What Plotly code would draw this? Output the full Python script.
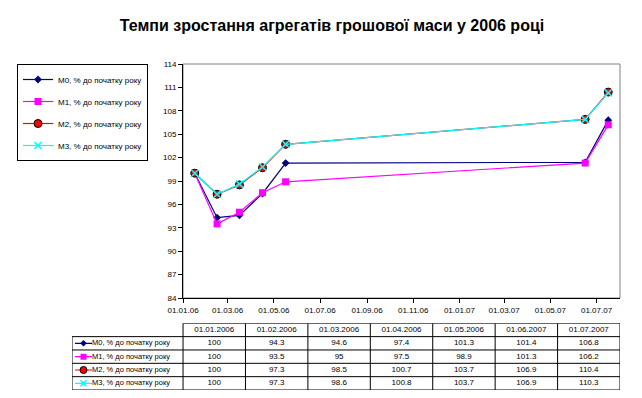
import plotly.graph_objects as go

# figure is placed by the page with an 8px body margin; coordinates below are page pixels
OFF = 8
W, H = 642 - OFF, 398 - OFF


def fx(px):
    return (px - OFF) / W


def fy(py):
    return 1 - (py - OFF) / H


dates = ["2006-01-01", "2006-02-01", "2006-03-01", "2006-04-01", "2006-05-01", "2007-06-01", "2007-07-01"]
date_labels = ["01.01.2006", "01.02.2006", "01.03.2006", "01.04.2006", "01.05.2006", "01.06.2007", "01.07.2007"]
series_names = ["M0, % до початку року", "M1, % до початку року", "M2, % до початку року", "M3, % до початку року"]
m0 = [100, 94.3, 94.6, 97.4, 101.3, 101.4, 106.8]
m1 = [100, 93.5, 95, 97.5, 98.9, 101.3, 106.2]
m2 = [100, 97.3, 98.5, 100.7, 103.7, 106.9, 110.4]
m3 = [100, 97.3, 98.6, 100.8, 103.7, 106.9, 110.3]
x_ticks = ["2006-01-01", "2006-03-01", "2006-05-01", "2006-07-01", "2006-09-01", "2006-11-01",
           "2007-01-01", "2007-03-01", "2007-05-01", "2007-07-01"]
y_ticks = [84, 87, 90, 93, 96, 99, 102, 105, 108, 111, 114]

FONT = "Arial, Liberation Sans, sans-serif"

styles = [
    dict(color="#000080", marker=dict(symbol="diamond", size=6, color="#000080")),
    dict(color="#FF00FF", marker=dict(symbol="square", size=7, color="#FF00FF")),
    dict(color="#FF0000", marker=dict(symbol="circle", size=8, color="#FF0000", line=dict(color="black", width=1))),
    dict(color="#00FFFF", marker=dict(symbol="x-thin", size=7, color="#00FFFF", line=dict(color="#00FFFF", width=1.5))),
]
values = [m0, m1, m2, m3]

fig = go.Figure()
for i, (name, vals, st) in enumerate(zip(series_names, values, styles)):
    fig.add_trace(go.Scatter(
        x=dates, y=vals, name=name, mode="lines+markers",
        xperiod="M1", xperiodalignment="middle",
        line=dict(color=st["color"], width=1.2),
        marker=st["marker"], legendgroup=f"g{i}",
    ))

# ---- data table drawn on its own axes (x2/y2) ----
LABEL_W = 111.0
COL_W = 62.4
ncol = len(dates)
table_w = LABEL_W + COL_W * ncol
col_centers = [LABEL_W + COL_W * (j + 0.5) for j in range(ncol)]
nrows = len(series_names)

fig.add_trace(go.Scatter(
    x=col_centers, y=[nrows + 0.5] * ncol, text=date_labels, mode="text",
    textfont=dict(family=FONT, size=8, color="black"), textposition="middle center",
    xaxis="x2", yaxis="y2", showlegend=False, hoverinfo="skip"))
for i, vals in enumerate(values):
    row_y = nrows - i - 0.5
    fig.add_trace(go.Scatter(
        x=col_centers, y=[row_y] * ncol, text=[f"{v:g}" for v in vals], mode="text",
        textfont=dict(family=FONT, size=8, color="black"), textposition="middle center",
        xaxis="x2", yaxis="y2", showlegend=False, hoverinfo="skip"))
    fig.add_trace(go.Scatter(
        x=[20], y=[row_y], text=[series_names[i]], mode="text",
        textfont=dict(family=FONT, size=7.5, color="black"), textposition="middle right",
        xaxis="x2", yaxis="y2", showlegend=False, hoverinfo="skip"))
    st = styles[i]
    fig.add_trace(go.Scatter(
        x=[3, 20], y=[row_y, row_y], mode="lines", line=dict(color=st["color"], width=1.2),
        xaxis="x2", yaxis="y2", showlegend=False, hoverinfo="skip"))
    mk = dict(st["marker"])
    mk["size"] = max(mk["size"] - 1, 5)
    fig.add_trace(go.Scatter(
        x=[11.5], y=[row_y], mode="markers", marker=mk,
        xaxis="x2", yaxis="y2", showlegend=False, hoverinfo="skip"))

shapes = [dict(type="rect", xref="x domain", yref="y domain", x0=0, x1=1, y0=0, y1=1,
               line=dict(color="#808080", width=1), layer="below")]
line_style = dict(color="black", width=1)
for r in range(nrows + 1):
    shapes.append(dict(type="line", xref="x2", yref="y2", x0=0, x1=table_w, y0=r, y1=r, line=line_style))
shapes.append(dict(type="line", xref="x2", yref="y2", x0=LABEL_W, x1=table_w, y0=nrows + 1, y1=nrows + 1, line=line_style))
shapes.append(dict(type="line", xref="x2", yref="y2", x0=0, x1=0, y0=0, y1=nrows, line=line_style))
for j in range(ncol + 1):
    xv = LABEL_W + COL_W * j
    shapes.append(dict(type="line", xref="x2", yref="y2", x0=xv, x1=xv, y0=0, y1=nrows + 1, line=line_style))

fig.update_layout(
    width=W, height=H,
    margin=dict(l=0, r=0, t=0, b=0, autoexpand=False),
    paper_bgcolor="white", plot_bgcolor="white",
    font=dict(family=FONT, size=9, color="black"),
    title=dict(text="<b>Темпи зростання агрегатів грошової маси у 2006 році</b>",
               x=fx(332), xanchor="center", y=fy(25), yanchor="middle",
               font=dict(family=FONT, size=16, color="black")),
    showlegend=True,
    legend=dict(x=fx(17), y=fy(64), xanchor="left", yanchor="top",
                bordercolor="black", borderwidth=1, bgcolor="white",
                font=dict(family=FONT, size=8, color="black"),
                traceorder="grouped", tracegroupgap=3),
    xaxis=dict(type="date", domain=[fx(183), fx(620)],
               range=["2006-01-01", "2007-08-01"],
               tickvals=x_ticks, tickformat="%d.%m.%y",
               showgrid=False, zeroline=False, showline=True, linecolor="black", linewidth=1,
               ticks="outside", ticklen=4, tickcolor="black", automargin=False,
               tickfont=dict(family=FONT, size=8, color="black")),
    yaxis=dict(domain=[fy(298), fy(64)], range=[84, 114], tickvals=y_ticks,
               showgrid=False, zeroline=False, showline=True, linecolor="black", linewidth=1,
               ticks="outside", ticklen=4, tickcolor="black", automargin=False,
               tickfont=dict(family=FONT, size=8, color="black")),
    xaxis2=dict(domain=[fx(72), fx(620)], range=[0, table_w], visible=False, anchor="y2",
                fixedrange=True),
    yaxis2=dict(domain=[fy(390), fy(323.3)], range=[0, nrows + 1], visible=False,
                anchor="x2", fixedrange=True),
    shapes=shapes,
)

fig.write_html("out.html")
